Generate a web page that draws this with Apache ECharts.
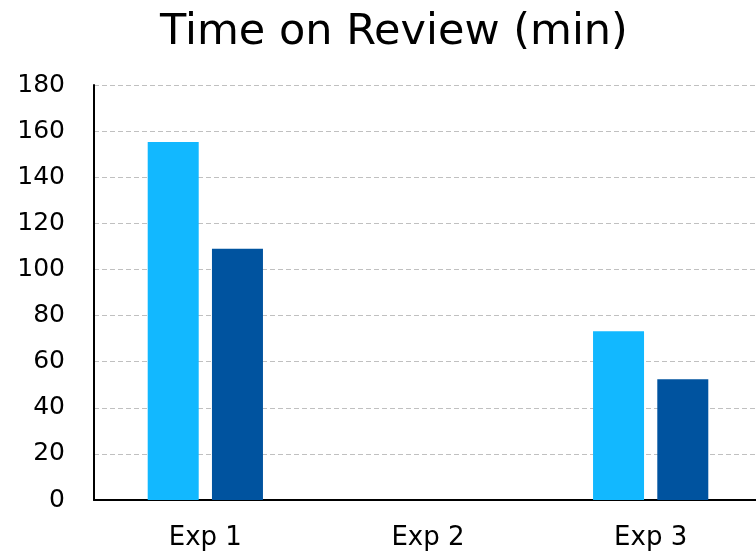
<!DOCTYPE html>
<html><head><meta charset="utf-8">
<script src="https://cdn.jsdelivr.net/npm/echarts@6/dist/echarts.min.js"></script>
<style>html,body{margin:0;padding:0;background:#fff;overflow:hidden}#c{width:762px;height:554px}</style>
</head><body><div id="c"></div>
<script>
const categories = ['Exp 1', 'Exp 2', 'Exp 3'];
const seriesA = [155.3, null, 73.2];
const seriesB = [109, null, 52.4];
const yTicks = [0, 20, 40, 60, 80, 100, 120, 140, 160, 180];
const titleText = 'Time on Review (min)';

const chart = echarts.init(document.getElementById('c'));
const font = 'DejaVu Sans';
chart.setOption({
  animation: false,
  title: { text: titleText, left: 155, top: 6, textStyle: { fontFamily: font, fontSize: 43, fontWeight: 'normal', color: '#000' } },
  grid: { left: 94, width: 668, top: 85, bottom: 54, containLabel: false },
  xAxis: {
    type: 'category', data: categories,
    axisLine: { lineStyle: { color: '#000', width: 2 } },
    axisTick: { show: false },
    axisLabel: { fontFamily: font, fontSize: 26, color: '#000', margin: 25 }
  },
  yAxis: {
    type: 'value', min: yTicks[0], max: yTicks[yTicks.length - 1], interval: 20,
    axisLine: { show: true, lineStyle: { color: '#000', width: 2 } },
    axisTick: { show: false },
    axisLabel: { fontFamily: font, fontSize: 25, color: '#000', margin: 29 },
    splitLine: { lineStyle: { color: '#c0c0c0', type: [5, 3], width: 1 } }
  },
  series: [
    { type: 'bar', data: seriesA, barWidth: 51, barGap: '26%', itemStyle: { color: '#12B8FF' } },
    { type: 'bar', data: seriesB, barWidth: 51, barGap: '26%', itemStyle: { color: '#00539F' } }
  ]
});
</script></body></html>
